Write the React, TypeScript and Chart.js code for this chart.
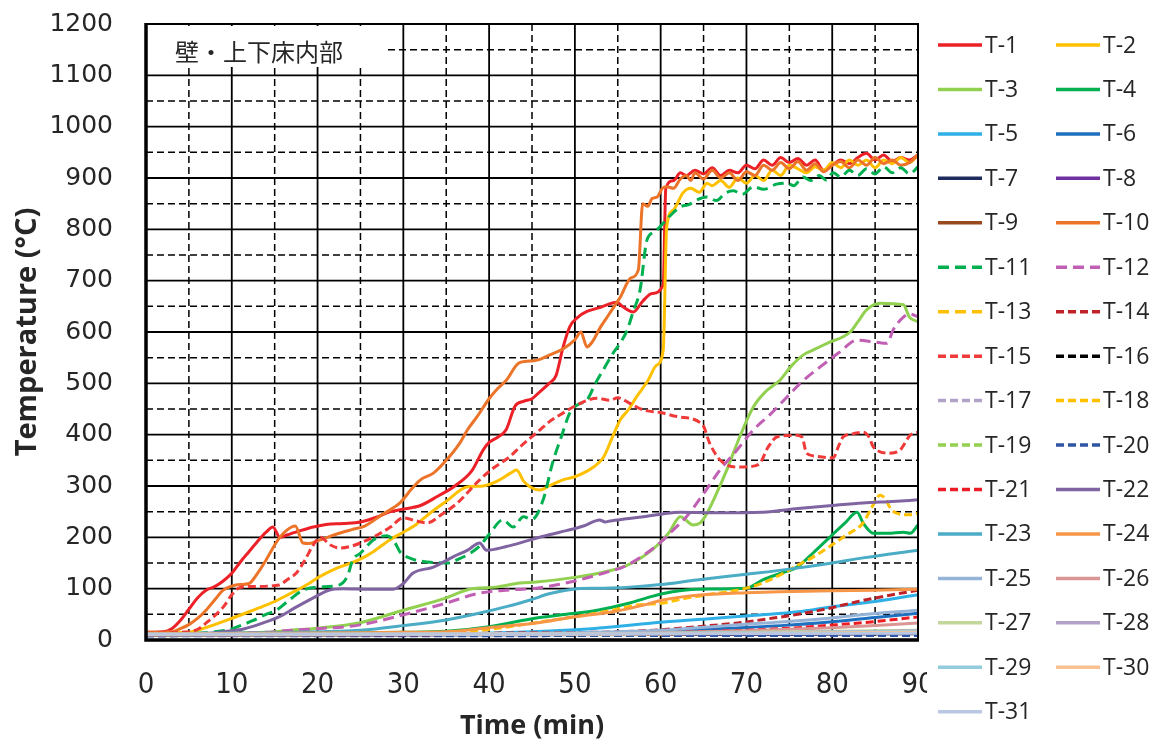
import React, { useEffect, useRef } from 'react';
import { Chart, registerables } from 'chart.js';

Chart.register(...registerables);

// ---------- data (time in min, temperature in °C) ----------
const SERIES_NAMES = [
  'T-1', 'T-2', 'T-3', 'T-4', 'T-5', 'T-6', 'T-7', 'T-8', 'T-9', 'T-10',
  'T-11', 'T-12', 'T-13', 'T-14', 'T-15', 'T-16', 'T-17', 'T-18', 'T-19', 'T-20',
  'T-21', 'T-22', 'T-23', 'T-24', 'T-25', 'T-26', 'T-27', 'T-28', 'T-29', 'T-30', 'T-31',
];

const X_TICKS = [0, 10, 20, 30, 40, 50, 60, 70, 80, 90];
const Y_TICKS = [0, 100, 200, 300, 400, 500, 600, 700, 800, 900, 1000, 1100, 1200];
const PANEL_LABEL = '壁・上下床内部';
const X_TITLE = 'Time (min)';
const Y_TITLE = 'Temperature (°C)';

type P = [number, number];

const T1: P[] = [[0,15],[2,16],[3,22],[4,38],[5,60],[6,82],[7,97],[8,104],[9,115],[10,130],[11,152],[12,172],[13,192],[14,210],[14.8,220],[15.6,200],[16.5,205],[18,213],[19.5,220],[21,225],[23,227],[25,230],[27,240],[28.5,250],[30,255],[32,262],[34,280],[36,300],[38,330],[39.3,370],[40,385],[41,395],[42,410],[43,455],[44,465],[45,470],[46,485],[47,500],[47.8,515],[48.6,569],[49.4,610],[50.3,628],[51.4,640],[53,648],[54.9,658],[55.6,649],[56.8,639],[57.9,660],[59,675],[60.3,692],[60.6,880],[61.5,895],[62.3,910],[63,905],[64,915],[65,908],[66,920],[67,905],[68,915],[69,910],[70,925],[71,918],[72,935],[73,925],[74,940],[75,930],[76,938],[77,925],[78,935],[79,915],[80,925],[81,935],[82,928],[83,940],[84,948],[85,935],[86,945],[87,932],[88,940],[89,935],[90,945]];
const T2: P[] = [[0,13],[5,15],[6,19],[8,30],[10,42],[12,55],[14,68],[15,75],[17,92],[19,110],[20.2,123],[22,138],[24.8,156],[26.5,172],[28.4,195],[30,210],[31.5,225],[33.1,247],[35,270],[37.4,298],[39.3,300],[41,310],[42.5,325],[43.2,331],[44,310],[44.8,298],[45.9,292],[47,300],[48.6,312],[50,318],[52,335],[53.3,355],[54.5,400],[55.3,429],[56.3,450],[57.2,474],[58.5,505],[59.5,535],[60.3,565],[60.7,805],[61.5,838],[62.6,871],[63.5,880],[64.5,872],[65.4,890],[66,885],[67,895],[68,882],[69,900],[70,890],[71,905],[72,895],[73,915],[74,905],[75,925],[76,918],[77,910],[78,922],[79,915],[80,930],[81,920],[82,935],[83,925],[84,935],[85,920],[86,935],[87,928],[88,940],[89,930],[90,945]];
const T3: P[] = [[0,12],[14,15],[17,19],[20,23],[24.8,33],[30,58],[35,82],[37.7,99],[40.8,103],[43.6,111],[45.5,113],[50,122],[53.3,132],[56,145],[58,163],[59.9,189],[61,210],[62.3,240],[63.8,224],[64.6,228],[65.4,247],[66.5,285],[67.7,331],[69.2,395],[70.8,454],[72.3,485],[73.9,506],[75.3,535],[76.6,555],[77.8,565],[79.4,578],[82.1,600],[83,620],[84,643],[85.6,656],[88.3,653],[89,629],[90,620]];
const T4: P[] = [[0,12],[25,14],[30,15],[35,17],[40,26],[45.5,43],[49,50],[52.6,58],[56.4,72],[59,85],[61.4,94],[64.2,99],[70,101],[71.9,117],[74,130],[75.9,142],[77.8,170],[79.7,200],[81.5,228],[82.9,249],[83.6,228],[84.8,208],[86.5,208],[88.3,210],[89.1,208],[90,224]];
const T5: P[] = [[0,11],[35,12],[45,16],[52,22],[60.3,35],[66,42],[71.9,49],[76,55],[79.7,64],[85,75],[90,88]];
const T6: P[] = [[0,10],[45,11],[55,14],[62,18],[68,23],[74,28],[79.7,35],[85,44],[90,52]];
const T7: P[] = [[0,9],[45,10],[90,12]];
const T8: P[] = [[0,10],[50,11],[90,13]];
const T9: P[] = [[0,10],[50,11],[90,14]];
const T10: P[] = [[0,15],[3,16],[4,22],[5,30],[6,42],[7,58],[8,78],[9,97],[10,105],[11,108],[12,110],[13,130],[14,156],[15,185],[15.6,200],[16.5,215],[17.4,222],[18.3,189],[19,188],[20.3,195],[22,205],[24,215],[25.5,222],[27.6,245],[29.6,267],[31,295],[32,312],[33.5,325],[35,350],[36.6,384],[37.5,410],[38.6,435],[40,470],[41,490],[42,506],[43.5,540],[45.2,544],[46,547],[47,555],[48.6,567],[50,585],[50.7,600],[51.4,571],[52,580],[53,610],[54,635],[55.3,668],[56.5,705],[57.4,721],[57.9,850],[58.5,845],[59,860],[59.6,863],[60.2,880],[60.7,883],[61.5,880],[62.3,898],[63,905],[63.5,895],[64,910],[65,898],[66,915],[67,900],[68,910],[69,895],[70,912],[71,905],[72,925],[73,915],[74,930],[75,918],[76,932],[77,915],[78,928],[79,912],[80,925],[81,932],[82,920],[83,935],[84,925],[85,940],[86,928],[87,935],[88,925],[89,930],[90,945]];
const T11: P[] = [[0,12],[7,14],[8,16],[9.7,20],[11,28],[12.5,38],[14,50],[15.2,58],[16.5,75],[18.3,97],[20,103],[22.5,107],[23.5,125],[24.1,156],[25,169],[26.5,195],[28.1,203],[29,190],[29.6,172],[31,158],[32.8,152],[35.1,150],[36.5,158],[37.8,169],[39,185],[40.1,208],[41.6,234],[42.8,220],[44,240],[45,235],[46.3,273],[47.4,345],[48.5,400],[49.4,442],[50.5,460],[51.4,467],[52.4,500],[53.3,526],[54.5,560],[55.3,579],[56.1,604],[56.8,640],[57.6,682],[58.4,779],[59.3,795],[60.3,812],[61.2,828],[62.3,844],[63.3,848],[64.3,858],[65.4,863],[66.5,856],[67.5,870],[68.5,875],[69.5,868],[70.8,883],[72,878],[73.5,888],[74.7,890],[75.5,885],[76.6,902],[77.5,895],[78.5,905],[79.3,896],[80.1,910],[81,902],[82,915],[83,905],[84,918],[85,908],[86,922],[87,910],[88,920],[89,908],[90,922]];
const T12: P[] = [[0,12],[14,15],[17,19],[20,22],[24.8,29],[30,49],[35,72],[38.8,91],[42,97],[45.5,101],[50,115],[53.3,130],[56,145],[58,165],[59.9,189],[61.5,215],[63,240],[65,285],[66.9,331],[68.9,370],[70.8,409],[72.8,440],[74.7,473],[76.6,505],[78.6,532],[80.8,560],[82.9,584],[84.8,581],[86.4,578],[87.1,604],[88.3,629],[89,635],[90,630]];
const T13: P[] = [[0,10],[40,11],[70,13],[90,16]];
const T14: P[] = [[0,11],[30,12],[45,14],[55,16],[60,20],[65,27],[70,35],[72,40],[76,50],[79.7,62],[83,75],[86,85],[90,97]];
const T15: P[] = [[0,13],[4,15],[5.8,19],[7.5,40],[9,64],[10,88],[10.8,101],[12,104],[15.5,107],[16.5,118],[17.5,130],[18.5,155],[19.5,185],[20.3,200],[21.5,185],[22.6,179],[24,183],[25,189],[27,205],[28.5,220],[30,238],[31.5,232],[32.8,228],[34.5,245],[36.3,267],[38.9,312],[40.5,335],[42.4,357],[43.6,376],[45.9,409],[47,425],[48.6,442],[50.5,460],[52.6,471],[54.1,467],[55,472],[56.4,461],[58,448],[60,443],[62,435],[64.9,419],[65.7,384],[66.9,351],[68.9,337],[70.5,338],[71.6,345],[72.5,375],[73.6,396],[75.9,399],[76.5,395],[77,364],[78,358],[80.1,355],[80.8,380],[81.3,396],[82.5,402],[83.6,405],[84.3,395],[84.8,376],[86.7,364],[87.9,370],[89.1,399],[90,405]];
const T16: P[] = [[0,10],[60,11],[90,13]];
const T17: P[] = [[0,10],[60,11],[90,12]];
const T18: P[] = [[0,12],[30,13],[39,19],[43.6,29],[47,38],[51.4,49],[54,57],[57.2,68],[60.3,72],[62.5,80],[65.4,88],[70,101],[72,112],[74.3,130],[76,146],[77.8,162],[79.5,180],[81.7,205],[83.6,228],[84.5,255],[85.6,282],[86.2,275],[86.7,259],[87.5,247],[89,244],[90,247]];
const T19: P[] = [[0,10],[50,11],[90,14]];
const T20: P[] = [[0,8],[90,9]];
const T21: P[] = [[0,10],[45,11],[55,13],[62,15],[70,19],[75,23],[80,29],[85,36],[90,45]];
const T22: P[] = [[0,12],[7,13],[9,16],[11.5,22],[13.6,33],[15.5,45],[17.5,64],[19.5,82],[21.3,97],[23,100],[26,99],[28.8,99],[30,110],[31.1,130],[33.5,142],[35.8,162],[37.5,175],[38.9,189],[39.7,175],[42,182],[44.8,195],[47,205],[49,213],[51,222],[52.9,234],[53.5,230],[54.1,232],[56,236],[58,240],[60,245],[62.3,249],[66,248],[71.9,249],[76,256],[80,262],[83.6,267],[87,270],[90,273]];
const T23: P[] = [[0,12],[15,14],[20,16],[25,19],[30,28],[35,39],[38.8,52],[42,65],[44.8,78],[47,90],[49.8,99],[53,101],[56.4,103],[60,108],[64.2,117],[70,128],[75.9,140],[80,150],[83.6,160],[90,175]];
const T24: P[] = [[0,12],[25,14],[30,15],[35,16],[40,24],[45.5,33],[49.8,45],[54.4,55],[57.5,66],[60.3,78],[62.5,84],[64.9,88],[70,92],[73.9,94],[80,96],[85,97],[90,99]];
const T25: P[] = [[0,11],[40,12],[50,14],[55,16],[60,19],[66,26],[72,33],[78,40],[84,50],[90,58]];
const T26: P[] = [[0,10],[50,11],[60,14],[70,18],[80,24],[90,33]];
const T27: P[] = [[0,10],[50,11],[60,13],[70,15],[80,17],[90,19]];
const T28: P[] = [[0,10],[60,12],[90,18]];
const T29: P[] = [[0,11],[60,13],[90,17]];
const T30: P[] = [[0,11],[60,12],[90,15]];
const T31: P[] = [[0,11],[30,11],[60,12],[90,13]];

const SERIES_DATA: P[][] = [T1, T2, T3, T4, T5, T6, T7, T8, T9, T10, T11, T12, T13, T14, T15, T16, T17, T18, T19, T20, T21, T22, T23, T24, T25, T26, T27, T28, T29, T30, T31];

// ---------- styles ----------
const COLORS = [
  '#EC2027', '#FFC000', '#92D050', '#00B050', '#2EB0E6', '#1F6FBF', '#1F2A5C', '#7030A0', '#984A1E', '#EB7428',
  '#00B050', '#C05FB4', '#FFC000', '#C0222A', '#F03A3A', '#000000', '#B3A2C7', '#FFC000', '#92D050', '#2F55A4',
  '#EE1C25', '#8064A2', '#4BACC6', '#F79646', '#95B3D7', '#D99694', '#C3D69B', '#B3A2C7', '#93CDDD', '#FAC090', '#B9C7E0',
];
const LONG_DASH = [11, 6];
const SHORT_DASH = [8, 4];
const DASHES: number[][] = SERIES_NAMES.map((_, i) => {
  const n = i + 1;
  if (n >= 11 && n <= 13) return LONG_DASH;
  if (n >= 14 && n <= 21) return SHORT_DASH;
  return [];
});

const FONT_TEXT = '"Open Sans", "DejaVu Sans", sans-serif';
const FONT_XTICK = '"Liberation Sans Narrow", "DejaVu Sans Condensed", sans-serif';
const FONT_YTICK = '"DejaVu Sans", sans-serif';
const TEXT_COLOR = '#262626';

const decorPlugin = {
  id: 'decor',
  beforeDatasetsDraw(chart: any) {
    const { ctx, chartArea: a, scales } = chart;
    const xs = scales.x;
    const ys = scales.y;
    ctx.save();
    ctx.strokeStyle = '#000';
    for (let v = 5; v < 90; v += 5) {
      const px = xs.getPixelForValue(v);
      const major = v % 10 === 0;
      ctx.lineWidth = major ? 1.8 : 1.5;
      ctx.setLineDash(major ? [] : [7, 4]);
      ctx.beginPath();
      ctx.moveTo(px, a.top);
      ctx.lineTo(px, a.bottom);
      ctx.stroke();
    }
    for (let v = 50; v < 1200; v += 50) {
      const py = ys.getPixelForValue(v);
      const major = v % 100 === 0;
      ctx.lineWidth = major ? 1.8 : 1.5;
      ctx.setLineDash(major ? [] : [7, 4]);
      ctx.beginPath();
      ctx.moveTo(a.left, py);
      ctx.lineTo(a.right, py);
      ctx.stroke();
    }
    ctx.setLineDash([]);
    // panel label box
    ctx.fillStyle = '#ffffff';
    ctx.fillRect(a.left + 1, a.top + 2, 241, 41);
    ctx.fillStyle = TEXT_COLOR;
    ctx.font = '24px "Noto Sans CJK JP", sans-serif';
    ctx.textBaseline = 'middle';
    ctx.textAlign = 'left';
    ctx.fillText(PANEL_LABEL, a.left + 29, a.top + 28);
    ctx.restore();
  },
  afterDatasetsDraw(chart: any) {
    const { ctx, chartArea: a } = chart;
    ctx.save();
    ctx.strokeStyle = '#000';
    ctx.setLineDash([]);
    ctx.lineWidth = 2;
    ctx.beginPath();
    ctx.moveTo(a.left, a.top);
    ctx.lineTo(a.right, a.top);
    ctx.lineTo(a.right, a.bottom);
    ctx.stroke();
    ctx.lineWidth = 3.5;
    ctx.beginPath();
    ctx.moveTo(a.left, a.top - 1);
    ctx.lineTo(a.left, a.bottom);
    ctx.lineTo(a.right + 1, a.bottom);
    ctx.stroke();
    ctx.restore();
  },
  afterDraw(chart: any) {
    const { ctx, chartArea: a } = chart;
    ctx.save();
    ctx.fillStyle = '#ffffff';
    ctx.fillRect(a.right + 9, 0, chart.width - a.right - 9, chart.height);
    const sets = chart.data.datasets;
    ctx.font = '23px ' + FONT_TEXT;
    ctx.textBaseline = 'middle';
    ctx.textAlign = 'left';
    sets.forEach((ds: any, i: number) => {
      const col = i % 2;
      const row = Math.floor(i / 2);
      const x0 = col === 0 ? 938 : 1056;
      const y = 45 + row * 44.45;
      ctx.strokeStyle = ds.borderColor;
      ctx.lineWidth = 3.5;
      ctx.setLineDash(ds.borderDash || []);
      ctx.beginPath();
      ctx.moveTo(x0, y);
      ctx.lineTo(x0 + 44, y);
      ctx.stroke();
      ctx.setLineDash([]);
      ctx.fillStyle = TEXT_COLOR;
      ctx.fillText(ds.label, x0 + 47, y + 1);
    });
    ctx.restore();
  },
};

export default function App() {
  const ref = useRef<HTMLCanvasElement | null>(null);
  useEffect(() => {
    if (!ref.current) return;
    const datasets = SERIES_NAMES.map((name, i) => ({
      label: name,
      data: SERIES_DATA[i].map(([x, y]) => ({ x, y })),
      borderColor: COLORS[i],
      backgroundColor: COLORS[i],
      borderWidth: 3,
      borderDash: DASHES[i],
      pointRadius: 0,
      fill: false,
      cubicInterpolationMode: 'monotone' as const,
      order: SERIES_NAMES.length - i,
    }));
    const chart = new Chart(ref.current, {
      type: 'line',
      data: { datasets },
      options: {
        responsive: false,
        animation: false,
        layout: { padding: { top: 24, right: 242, left: 0, bottom: 0 } },
        plugins: { legend: { display: false }, tooltip: { enabled: false } },
        scales: {
          x: {
            type: 'linear',
            min: 0,
            max: 90,
            afterBuildTicks: (s: any) => { s.ticks = X_TICKS.map((v) => ({ value: v })); },
            ticks: { font: { family: FONT_XTICK, size: 29, lineHeight: 1 }, color: TEXT_COLOR, padding: 31, maxRotation: 0, autoSkip: false, callback: (v: any) => String(v) },
            grid: { display: false, drawTicks: false },
            border: { display: false },
            title: { display: true, text: X_TITLE, color: TEXT_COLOR, font: { family: FONT_TEXT, size: 27, weight: 'bold', lineHeight: 1.2 }, padding: { top: 0, bottom: 4 } },
            afterFit: (s: any) => { s.height = 107; },
          },
          y: {
            min: 0,
            max: 1200,
            afterBuildTicks: (s: any) => { s.ticks = Y_TICKS.map((v) => ({ value: v })); },
            ticks: { font: { family: FONT_YTICK, size: 25, lineHeight: 1 }, color: TEXT_COLOR, padding: 33, autoSkip: false, callback: (v: any) => String(v) },
            grid: { display: false, drawTicks: false },
            border: { display: false },
            title: { display: true, text: Y_TITLE, color: TEXT_COLOR, font: { family: FONT_TEXT, size: 29, weight: 'bold', lineHeight: 1.2 }, padding: { top: 10, bottom: 0 } },
            afterFit: (s: any) => { s.width = 146; s.paddingTop = 12; s.paddingBottom = 12; },
          },
        },
      },
      plugins: [decorPlugin],
    });
    return () => chart.destroy();
  }, []);
  return (
    <div style={{ position: 'fixed', left: 0, top: 0, width: 1160, height: 747, background: '#fff' }}>
      <canvas ref={ref} width={1160} height={747} style={{ display: 'block' }} />
    </div>
  );
}
